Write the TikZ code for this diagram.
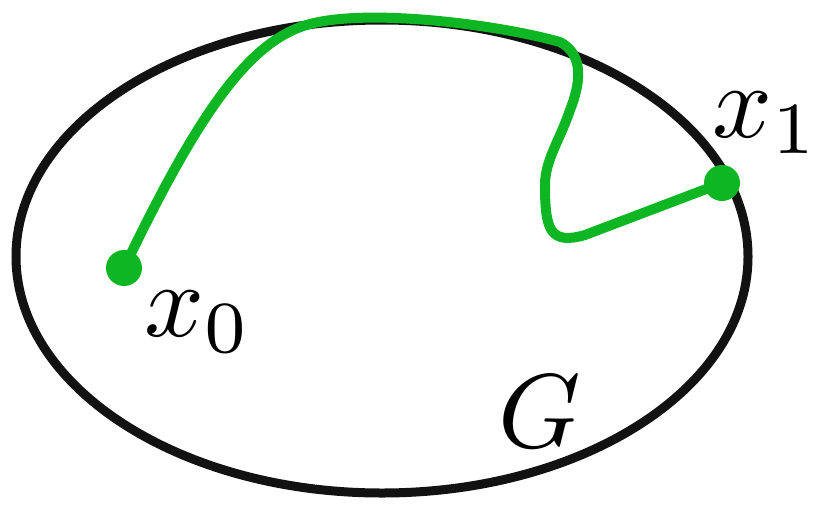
\documentclass[tikz,border=0pt]{standalone}
\definecolor{pathgreen}{RGB}{14,182,36}
\begin{document}
\begin{tikzpicture}[x=1pt,y=-1pt,
  dot/.style={circle,fill=pathgreen,inner sep=0pt,minimum size=36pt},
  lbl/.style={inner sep=0pt,scale=10.5},
  boundary/.style={draw=black!93,line width=9pt},
  curvepath/.style={draw=pathgreen,line width=10pt,line cap=round,line join=round}]
\useasboundingbox (0,0) rectangle (816,507);
\draw[boundary] (382,256.5) ellipse [x radius=366, y radius=236.5];
\node[dot] (x0) at (124,268) {};
\node[dot] (x1) at (722,183) {};
\draw[curvepath] (x0.center) .. controls (200,110) and (250,40) .. (310,24)
  .. controls (370,8) and (500,25) .. (560,42)
  .. controls (585,55) and (580,85) .. (570,110)
  .. controls (560,140) and (545,160) .. (545,185)
  .. controls (545,230) and (550,245) .. (585,235)
  -- (x1.center);
\node[lbl] (l0) at (198,322) {$x_0$};
\node[lbl] (l1) at (766,123) {$x_1$};
\node[lbl] (lG) at (540,412) {$G$};
\end{tikzpicture}
\end{document}
